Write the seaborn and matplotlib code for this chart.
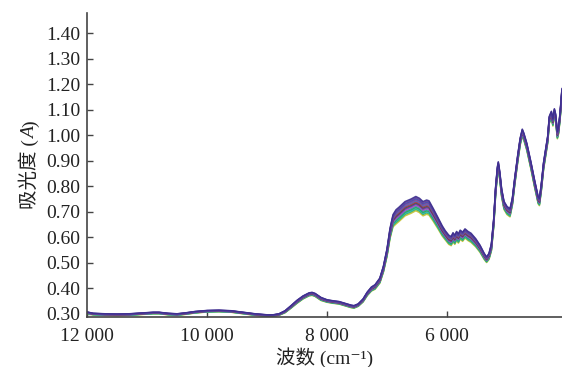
"""
Espectros NIR superpuestos: absorbancia frente a número de onda.
"""

import numpy as np
import pandas as pd
import matplotlib
matplotlib.use("Agg")
import matplotlib.pyplot as plt
import seaborn as sns
from matplotlib.ticker import FixedLocator, FuncFormatter


# número de onda (cm-1), de mayor a menor
wavenumber = [
    12000, 11900, 11700, 11500, 11300, 11100, 10900, 10800, 10650, 10500,
    10350, 10200, 10000, 9800, 9600, 9400, 9200, 9000, 8900, 8800,
    8700, 8600, 8500, 8400, 8300, 8250, 8200, 8100, 8000, 7900,
    7800, 7700, 7600, 7550, 7480, 7400, 7330, 7260, 7200, 7120,
    7060, 7000, 6950, 6900, 6850, 6800, 6700, 6600, 6520, 6460,
    6400, 6340, 6300, 6230, 6150, 6080, 6030, 5970, 5930, 5900,
    5870, 5840, 5810, 5780, 5740, 5700, 5650, 5600, 5520, 5450,
    5380, 5340, 5300, 5260, 5220, 5190, 5160, 5145, 5120, 5090,
    5050, 5000, 4950, 4910, 4870, 4820, 4780, 4745, 4720, 4670,
    4600, 4540, 4480, 4460, 4430, 4390, 4350, 4320, 4295, 4260,
    4235, 4210, 4190, 4160, 4140, 4115, 4083,
]

# absorbancia media de la banda de espectros
absorb_mean = [
    0.304, 0.299, 0.297, 0.296, 0.297, 0.300, 0.303, 0.303, 0.299, 0.297,
    0.301, 0.306, 0.310, 0.311, 0.309, 0.303, 0.297, 0.293, 0.293, 0.297,
    0.308, 0.327, 0.347, 0.364, 0.376, 0.378, 0.374, 0.358, 0.350, 0.346,
    0.343, 0.336, 0.329, 0.327, 0.334, 0.352, 0.378, 0.397, 0.405, 0.430,
    0.475, 0.540, 0.615, 0.665, 0.680, 0.690, 0.712, 0.722, 0.732, 0.725,
    0.712, 0.718, 0.715, 0.688, 0.655, 0.625, 0.608, 0.590, 0.585, 0.600,
    0.590, 0.605, 0.595, 0.610, 0.602, 0.615, 0.605, 0.598, 0.578, 0.555,
    0.525, 0.512, 0.525, 0.560, 0.660, 0.780, 0.860, 0.880, 0.840, 0.775,
    0.725, 0.705, 0.696, 0.740, 0.820, 0.910, 0.975, 1.010, 0.995, 0.955,
    0.880, 0.810, 0.745, 0.738, 0.790, 0.880, 0.940, 0.985, 1.060, 1.080,
    1.050, 1.090, 1.070, 1.000, 1.020, 1.075, 1.170,
]

# semiancho de la banda (dispersión entre muestras)
band_halfwidth = [
    0.003, 0.003, 0.003, 0.003, 0.003, 0.003, 0.003, 0.003, 0.003, 0.003,
    0.003, 0.003, 0.003, 0.003, 0.003, 0.003, 0.003, 0.003, 0.003, 0.003,
    0.004, 0.005, 0.006, 0.006, 0.006, 0.006, 0.006, 0.006, 0.005, 0.005,
    0.005, 0.005, 0.005, 0.005, 0.005, 0.006, 0.007, 0.008, 0.009, 0.010,
    0.012, 0.015, 0.020, 0.024, 0.028, 0.028, 0.028, 0.028, 0.028, 0.028,
    0.028, 0.028, 0.028, 0.025, 0.022, 0.020, 0.018, 0.018, 0.018, 0.018,
    0.018, 0.018, 0.018, 0.018, 0.018, 0.018, 0.018, 0.018, 0.016, 0.014,
    0.012, 0.011, 0.012, 0.014, 0.016, 0.016, 0.016, 0.016, 0.016, 0.016,
    0.016, 0.016, 0.016, 0.014, 0.014, 0.014, 0.014, 0.014, 0.014, 0.014,
    0.014, 0.014, 0.014, 0.014, 0.014, 0.014, 0.014, 0.014, 0.014, 0.014,
    0.014, 0.014, 0.014, 0.014, 0.014, 0.014, 0.014,
]

# posición relativa de cada muestra dentro de la banda (-1 abajo, +1 arriba)
sample_offsets = [-1.0, -0.8, -0.65, -0.5, -0.35, -0.2, -0.05,
                  0.1, 0.25, 0.4, 0.55, 0.7, 0.85, 1.0]
sample_colors = ["#c8c030", "#40b050", "#1fb5c5", "#30a040", "#2b9fb0",
                 "#c040c0", "#5a3fa5", "#4a4a4a", "#b0304a", "#3a6fc0",
                 "#8e3b8e", "#2f4fb0", "#6a3d9a", "#3b2f8f"]

x_ticks = [12000, 10000, 8000, 6000]
y_ticks = [0.30, 0.40, 0.50, 0.60, 0.70, 0.80, 0.90, 1.00, 1.10, 1.20, 1.30, 1.40]

# etiqueta del eje y en trozos: (texto, estilo)
ylabel_parts = [("吸光度 (", "normal"), ("A", "italic"), (")", "normal")]


sns.set_style("ticks")
fuentes = ["Liberation Serif", "Noto Sans CJK SC", "DejaVu Serif"]
plt.rcParams["font.family"] = fuentes

# tabla larga: una fila por punto y muestra
wn = np.array(wavenumber)
media = np.array(absorb_mean)
semi = np.array(band_halfwidth)
filas = []
for i, off in enumerate(sample_offsets):
    filas.append(pd.DataFrame({
        "wavenumber": wn,
        "absorbance": media + off * semi,
        "sample": f"s{i}",
    }))
df = pd.concat(filas, ignore_index=True)

W, H = 562, 367
fig = plt.figure(figsize=(W / 100, H / 100), dpi=100)
ax = fig.add_axes([0.155, 0.136, 0.845, 0.829])

sns.lineplot(
    data=df, x="wavenumber", y="absorbance", hue="sample",
    palette=sample_colors, estimator=None, sort=False, legend=False,
    linewidth=1.1, alpha=0.9, ax=ax,
)

ax.set_xlim(12000, 4083)
ax.set_ylim(0.287, 1.48)
ax.xaxis.set_major_locator(FixedLocator(x_ticks))
ax.yaxis.set_major_locator(FixedLocator(y_ticks))
ax.xaxis.set_major_formatter(FuncFormatter(lambda v, p: f"{int(v):,}".replace(",", " ")))
ax.yaxis.set_major_formatter(FuncFormatter(lambda v, p: f"{v:.2f}"))

sns.despine(ax=ax)
for lado in ["left", "bottom"]:
    ax.spines[lado].set_color("#444444")
    ax.spines[lado].set_linewidth(1.2)
ax.tick_params(axis="both", direction="in", length=4, width=1.0,
               color="#444444", labelsize=14, labelcolor="#222222")
ax.tick_params(axis="x", pad=7.5)
ax.tick_params(axis="y", pad=5)

ax.set_xlabel("波数 (cm⁻¹)", fontsize=14, color="#222222", labelpad=2)
ax.set_ylabel("")

# etiqueta y compuesta: texto girado, trozo a trozo hacia arriba
renderer = fig.canvas.get_renderer()
textos = []
for txt, estilo in ylabel_parts:
    t = fig.text(0, 0, txt, rotation=90, rotation_mode="anchor",
                 ha="left", va="baseline", fontsize=14, style=estilo,
                 family=fuentes, color="#222222")
    textos.append(t)
largos = [t.get_window_extent(renderer).height for t in textos]
base_x = 35
y_pos = (H - 165) - sum(largos) / 2
for t, largo in zip(textos, largos):
    t.set_position((base_x / W, y_pos / H))
    y_pos += largo

fig.savefig("out.png", dpi=100)
